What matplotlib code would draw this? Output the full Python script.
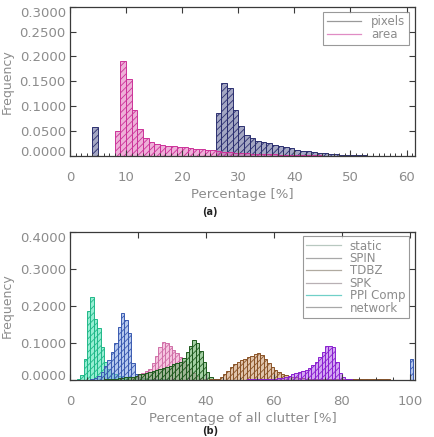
import numpy as np
import matplotlib.pyplot as plt
from matplotlib.colors import to_rgba
from matplotlib.lines import Line2D

plt.rcParams['font.family'] = 'DejaVu Sans'
plt.rcParams['hatch.linewidth'] = 0.6

# --- (a) pixels vs area, 1 % bins starting at 0 ---
bins_a = np.arange(0, 62)
pixels = [0, 0, 0, 0, 0.058, 0, 0, 0, 0, 0,
          0, 0, 0, 0, 0, 0, 0, 0, 0, 0,
          0, 0, 0, 0, 0, 0.001, 0.086, 0.146, 0.137, 0.092,
          0.060, 0.042, 0.036, 0.031, 0.029, 0.026, 0.023, 0.020, 0.018, 0.016,
          0.013, 0.011, 0.0095, 0.008, 0.0065, 0.0055, 0.0045, 0.0038, 0.003, 0.0025,
          0.002, 0.0015, 0.0012, 0.001, 0.0007, 0.0005, 0.0004, 0.0003, 0.0002, 0.0001,
          0, 0]
area = [0, 0, 0, 0, 0, 0, 0, 0, 0.050, 0.191,
        0.155, 0.092, 0.054, 0.037, 0.029, 0.024, 0.0214, 0.020, 0.0194, 0.0188,
        0.0174, 0.016, 0.0147, 0.0134, 0.0127, 0.012, 0.0095, 0.0085, 0.0075, 0.007,
        0.0062, 0.0056, 0.005, 0.0045, 0.004, 0.0036, 0.0032, 0.0029, 0.0026, 0.0023,
        0.002, 0.0018, 0.0016, 0.0014, 0.0012, 0.001, 0.0009, 0.0008, 0.0007, 0.0006,
        0.0005, 0.0004, 0.0003, 0.0003, 0.0002, 0.0001, 0.0001, 0.0001, 0, 0,
        0, 0]

# --- (b) share of all clutter per filter, 1 % bins 0..100 ---
bins_b = np.arange(0, 101)
ppi_start = 1
ppi = [0.001, 0.004, 0.013, 0.056, 0.186, 0.225, 0.165, 0.140, 0.090, 0.050,
       0.030, 0.020, 0.015, 0.012, 0.010, 0.009, 0.008, 0.007, 0.006, 0.005,
       0.004, 0.004, 0.003, 0.003, 0.002, 0.002, 0.001, 0.001, 0.001]
static_start = 6
static = [0.002, 0.005, 0.012, 0.022, 0.037, 0.054, 0.075, 0.100, 0.142, 0.180,
          0.162, 0.126, 0.045, 0.016, 0.008, 0.006, 0.005, 0.004, 0.004, 0.003,
          0.003, 0.002, 0.002, 0.001, 0.001]
static_at_100 = 0.058
spk_start = 17
spk = [0.003, 0.006, 0.009, 0.013, 0.018, 0.023, 0.030, 0.045, 0.065, 0.088,
       0.103, 0.100, 0.093, 0.082, 0.072, 0.062, 0.052, 0.042, 0.030, 0.020,
       0.012, 0.006, 0.003, 0.001]
spin_start = 10
spin = [0.002, 0.002, 0.003, 0.004, 0.005, 0.006, 0.007, 0.008, 0.009, 0.012,
        0.015, 0.017, 0.019, 0.021, 0.024, 0.027, 0.030, 0.033, 0.036, 0.039,
        0.042, 0.045, 0.050, 0.060, 0.075, 0.092, 0.107, 0.100, 0.078, 0.050,
        0.022, 0.008, 0.003, 0.001, 0.001]
tdbz_start = 40
tdbz = [0.001, 0.002, 0.003, 0.004, 0.008, 0.015, 0.025, 0.035, 0.042, 0.048,
        0.053, 0.057, 0.061, 0.066, 0.070, 0.072, 0.068, 0.058, 0.046, 0.036,
        0.027, 0.021, 0.016, 0.013, 0.011, 0.009, 0.007, 0.006, 0.005, 0.004,
        0.003, 0.003, 0.002, 0.002, 0.002, 0.002, 0.002, 0.002, 0.002, 0.002,
        0.002, 0.002, 0.003, 0.003, 0.004, 0.004, 0.004, 0.004, 0.004, 0.004,
        0.003, 0.003, 0.002, 0.002, 0.001, 0.001, 0.001]
net_start = 40
network = [0.001, 0.001, 0.001, 0.001, 0.001, 0.001, 0.001, 0.001, 0.001, 0.001,
           0.001, 0.001, 0.002, 0.002, 0.002, 0.002, 0.003, 0.003, 0.003, 0.004,
           0.004, 0.005, 0.006, 0.008, 0.012, 0.016, 0.019, 0.021, 0.023, 0.027,
           0.032, 0.040, 0.050, 0.062, 0.076, 0.093, 0.091, 0.090, 0.050, 0.020,
           0.008, 0.004, 0.002, 0.001]


def full(start, vals):
    arr = np.zeros(len(bins_b))
    arr[start:start + len(vals)] = vals
    return arr


static_full = full(static_start, static)
static_full[100] = static_at_100

GREY = '#8c8c8c'
AXC = '#3a3a3a'


def hbars(ax, x, y, face, edge):
    ax.bar(x, y, width=1.0, align='edge', facecolor=to_rgba(face, 0.55),
           edgecolor=edge, linewidth=0.7, hatch='/////')


def style(ax, xlim, ylim, xmaj, xmin, ymaj, xlabel):
    ax.set_xlim(*xlim)
    ax.set_ylim(*ylim)
    ax.set_xticks(xmaj)
    ax.set_xticks(xmin, minor=True)
    ax.set_yticks(ymaj)
    ax.set_yticklabels(['%.4f' % v for v in ymaj])
    ax.tick_params(which='both', direction='in', top=True, right=True,
                   colors=AXC, labelcolor=GREY, labelsize=9.5)
    ax.tick_params(which='major', length=4, width=0.8)
    ax.tick_params(which='minor', length=2.5, width=0.7, top=False)
    ax.tick_params(axis='x', pad=11)
    ax.tick_params(axis='y', pad=3)
    ticks = ax.yaxis.get_major_ticks()
    ticks[0].label1.set_va('baseline')
    ticks[-1].label1.set_va('top')
    for s in ax.spines.values():
        s.set_color(AXC)
        s.set_linewidth(0.9)
    ax.set_xlabel(xlabel, color=GREY, fontsize=9.5, labelpad=3)
    ax.set_ylabel('Frequency', color=GREY, fontsize=9)
    ax.yaxis.set_label_coords(-0.162, 0.5)


fig = plt.figure(figsize=(4.34, 4.37), dpi=100)
ax1 = fig.add_axes([70 / 434, 1 - 156 / 437, 345 / 434, 149.3 / 437])
ax2 = fig.add_axes([70 / 434, 1 - 380 / 437, 345 / 434, 148 / 437])

# (a)
hbars(ax1, bins_a, pixels, '#5a5f92', '#2c3070')
hbars(ax1, bins_a, area, '#e070b8', '#cc3399')
style(ax1, (0, 61.5), (0, 0.3), range(0, 61, 10), range(0, 62, 1),
      np.arange(0, 0.301, 0.05), 'Percentage [%]')
h1 = [Line2D([], [], color='#9a9a9a', lw=0.9),
      Line2D([], [], color='#e08cc4', lw=0.9)]
leg = ax1.legend(h1, ['pixels', 'area'], loc='upper right',
                 bbox_to_anchor=(0.982, 0.965), fontsize=8.5, labelcolor=GREY,
                 fancybox=False, edgecolor='#808080', handlelength=2.9,
                 labelspacing=0.0, borderpad=0.3, handletextpad=0.85,
                 borderaxespad=0)
leg.get_frame().set_linewidth(0.8)

# (b)
hbars(ax2, bins_b, full(ppi_start, ppi), '#40e0b0', '#20b888')
hbars(ax2, bins_b, static_full, '#7a9ee0', '#3a5ab0')
hbars(ax2, bins_b, full(spk_start, spk), '#f098c8', '#d070a8')
hbars(ax2, bins_b, full(spin_start, spin), '#58a858', '#1e5a1e')
hbars(ax2, bins_b, full(tdbz_start, tdbz), '#c89468', '#8a5428')
hbars(ax2, bins_b, full(net_start, network), '#b060e8', '#8a20d0')
style(ax2, (0, 101.5), (0, 0.4), range(0, 101, 20), range(0, 101, 5),
      np.arange(0, 0.401, 0.1), 'Percentage of all clutter [%]')
names = ['static', 'SPIN', 'TDBZ', 'SPK', 'PPI Comp', 'network']
lcols = ['#b8c8c0', '#a8a8a8', '#b0aaa0', '#b8b0b4', '#70d0c8', '#a8a8a8']
h2 = [Line2D([], [], color=c, lw=0.9) for c in lcols]
leg = ax2.legend(h2, names, loc='upper right', bbox_to_anchor=(0.982, 0.973),
                 fontsize=8.5, labelcolor=GREY, fancybox=False,
                 edgecolor='#808080', handlelength=3.0, labelspacing=-0.05,
                 borderpad=0.3, handletextpad=0.7, borderaxespad=0)
leg.get_frame().set_linewidth(0.8)

fig.text(210 / 434, 1 - 212 / 437, '(a)', ha='center', va='center',
         fontsize=7, fontweight='bold', color='#222222')
fig.text(210 / 434, 1 - 431 / 437, '(b)', ha='center', va='center',
         fontsize=7, fontweight='bold', color='#222222')

fig.savefig('out.png', dpi=100)
